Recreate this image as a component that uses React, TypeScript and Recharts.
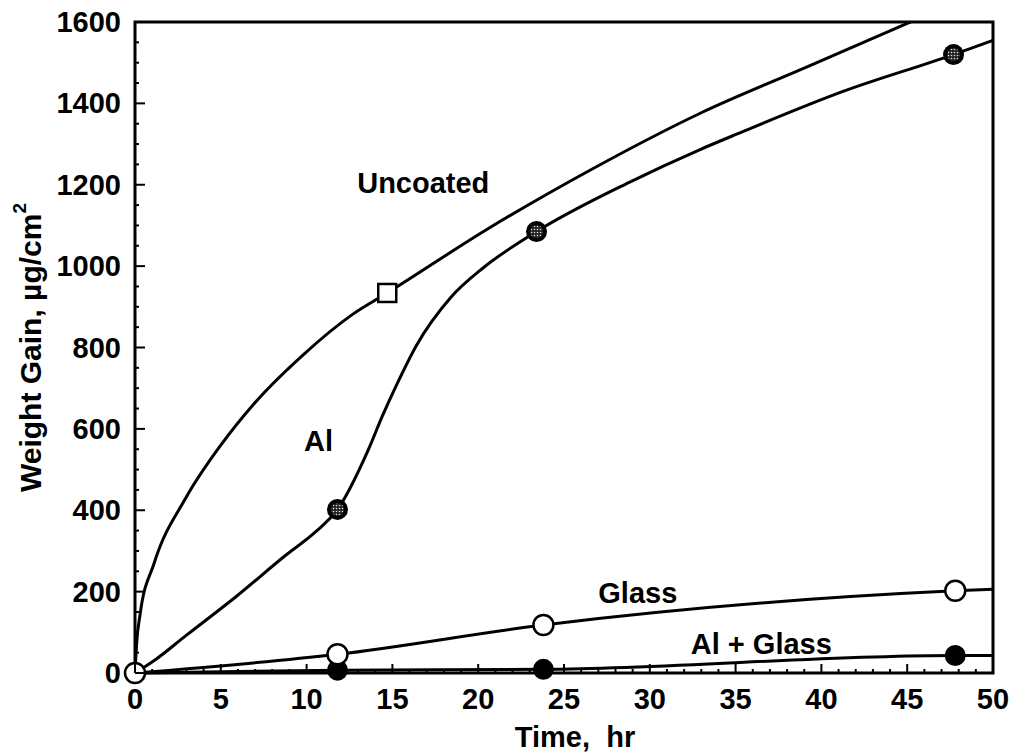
import { ComposedChart, Line, Scatter, XAxis, YAxis, ReferenceArea, ReferenceDot } from "recharts";

const FONT = '"Liberation Sans", Arial, Helvetica, sans-serif';

// traced curves, time in hr / weight gain in µg/cm²
const uncoatedT = [0, 0.1, 0.3, 1.1, 3, 5, 6.9, 9.8, 12.7, 14.7, 20.5, 26.7, 33, 39.3, 45.2];
const uncoatedV = [0, 75, 145, 268, 433, 560, 660, 782, 882, 934, 1090, 1240, 1377, 1492, 1600];

const alT = [0, 1.1, 3, 5.9, 8.8, 10.5, 11.8, 13.6, 14.4, 15.3, 16.4, 18.4, 20.3, 23.4, 28.8, 32.9, 35.1, 41.3, 47.7, 50];
const alV = [0, 30, 93, 188, 290, 346, 402, 549, 630, 713, 805, 923, 996, 1085, 1206, 1286, 1325, 1430, 1520, 1555];

const glassT = [0, 11.8, 23.8, 47.8, 50];
const glassV = [0, 46, 118, 202, 206];

const alGlassT = [0, 11.8, 23.8, 47.8, 50];
const alGlassV = [0, 7, 9, 43, 43];

// measured points (markers)
const uncoatedMarkT = [14.7];
const uncoatedMarkV = [934];
const alMarkT = [11.8, 23.4, 47.7];
const alMarkV = [402, 1085, 1520];
const glassMarkT = [0, 11.8, 23.8, 47.8];
const glassMarkV = [0, 46, 118, 202];
const alGlassMarkT = [11.8, 23.8, 47.8];
const alGlassMarkV = [7, 9, 43];

// curve names written on the plot
const labelText = ["Uncoated", "Al", "Glass", "Al + Glass"];
const labelT = [16.8, 10.7, 29.3, 36.5];
const labelV = [1205, 570, 198, 72];

const xMajor = [0, 5, 10, 15, 20, 25, 30, 35, 40, 45, 50];
const yMajor = [0, 200, 400, 600, 800, 1000, 1200, 1400, 1600];
const xTicks = Array.from({ length: 51 }, (_, i) => i);
const yTicks = Array.from({ length: 33 }, (_, i) => i * 50);

const pts = (t: number[], v: number[]) => t.map((x, i) => ({ t: x, v: v[i] }));

const uncoated = pts(uncoatedT, uncoatedV);
const al = pts(alT, alV);
const glass = pts(glassT, glassV);
const alGlass = pts(alGlassT, alGlassV);

const XTick = (p: any) => {
  const val = p.payload.value;
  const major = xMajor.includes(val);
  return (
    <g>
      <line x1={p.x} x2={p.x} y1={p.y} y2={p.y - (major ? 9 : 4)} stroke="#000" strokeWidth={2} />
      {major && (
        <text x={p.x} y={p.y + 36} textAnchor="middle" fontSize={29} fontWeight={700} fill="#000">
          {val}
        </text>
      )}
    </g>
  );
};

const YTick = (p: any) => {
  const val = p.payload.value;
  const major = yMajor.includes(val);
  return (
    <g>
      <line x1={p.x} x2={p.x + (major ? 10 : 4)} y1={p.y} y2={p.y} stroke="#000" strokeWidth={2} />
      {major && (
        <text x={p.x - 14} y={p.y + 10} textAnchor="end" fontSize={29} fontWeight={700} fill="#000">
          {val}
        </text>
      )}
    </g>
  );
};

const OpenCircle = (p: any) => (
  <circle cx={p.cx} cy={p.cy} r={10} fill="#fff" stroke="#000" strokeWidth={2.5} />
);
const FilledCircle = (p: any) => <circle cx={p.cx} cy={p.cy} r={10.5} fill="#000" />;
const OpenSquare = (p: any) => (
  <rect x={p.cx - 9} y={p.cy - 9} width={18} height={18} fill="#fff" stroke="#000" strokeWidth={2.5} />
);
const Stippled = (p: any) => (
  <g>
    <defs>
      <pattern id="stip" width={3} height={3} patternUnits="userSpaceOnUse">
        <rect width={3} height={3} fill="#222" />
        <circle cx={1.5} cy={1.5} r={0.8} fill="#ddd" />
      </pattern>
    </defs>
    <circle cx={p.cx} cy={p.cy} r={10.5} fill="#000" />
    <circle cx={p.cx} cy={p.cy} r={6.5} fill="url(#stip)" />
  </g>
);

export default function App() {
  return (
    <div style={{ fontFamily: FONT, marginTop: -8 }}>
      <ComposedChart width={1010} height={754} margin={{ top: 22, right: 25, bottom: 0, left: 0 }}>
        <XAxis
          type="number"
          dataKey="t"
          domain={[0, 50]}
          ticks={xTicks}
          interval={0}
          tickSize={0}
          tickMargin={0}
          axisLine={false}
          tickLine={false}
          tick={XTick}
          height={81}
          label={{
            content: (props: any) => {
              const vb = props.viewBox;
              return (
                <text x={vb.x + vb.width / 2 + 11} y={vb.y + 74} textAnchor="middle" fontSize={29} fontWeight={700} fill="#000" style={{ whiteSpace: "pre" }}>
                  {"Time,  hr"}
                </text>
              );
            },
          }}
        />
        <YAxis
          type="number"
          dataKey="v"
          domain={[0, 1600]}
          ticks={yTicks}
          interval={0}
          tickSize={0}
          tickMargin={0}
          axisLine={false}
          tickLine={false}
          tick={YTick}
          width={127}
          label={{
            content: (props: any) => {
              const vb = props.viewBox;
              const cx = vb.x + 22;
              const cy = vb.y + vb.height / 2;
              return (
                <text x={cx} y={cy} transform={`rotate(-90 ${cx} ${cy})`} textAnchor="middle" dominantBaseline="central" fontSize={30} fontWeight={700} fill="#000">
                  Weight Gain, µg/cm<tspan fontSize={19} dy={-11}>2</tspan>
                </text>
              );
            },
          }}
        />
        <ReferenceArea x1={0} x2={50} y1={0} y2={1600} fill="none" fillOpacity={0} stroke="#000" strokeWidth={3} />

        <Line data={uncoated} dataKey="v" type="monotone" stroke="#000" strokeWidth={3} dot={false} activeDot={false} isAnimationActive={false} />
        <Line data={al} dataKey="v" type="monotone" stroke="#000" strokeWidth={3} dot={false} activeDot={false} isAnimationActive={false} />
        <Line data={glass} dataKey="v" type="monotone" stroke="#000" strokeWidth={3} dot={false} activeDot={false} isAnimationActive={false} />
        <Line data={alGlass} dataKey="v" type="monotone" stroke="#000" strokeWidth={3} dot={false} activeDot={false} isAnimationActive={false} />

        <Scatter data={pts(uncoatedMarkT, uncoatedMarkV)} dataKey="v" shape={OpenSquare} isAnimationActive={false} />
        <Scatter data={pts(alMarkT, alMarkV)} dataKey="v" shape={Stippled} isAnimationActive={false} />
        <Scatter data={pts(alGlassMarkT, alGlassMarkV)} dataKey="v" shape={FilledCircle} isAnimationActive={false} />
        <Scatter data={pts(glassMarkT, glassMarkV)} dataKey="v" shape={OpenCircle} isAnimationActive={false} />

        {labelText.map((name, i) => (
          <ReferenceDot
            key={name}
            x={labelT[i]}
            y={labelV[i]}
            r={0}
            fill="none"
            stroke="none"
            label={{ value: name, position: "center", fontSize: 29, fontWeight: 700, fill: "#000" }}
          />
        ))}
      </ComposedChart>
    </div>
  );
}
